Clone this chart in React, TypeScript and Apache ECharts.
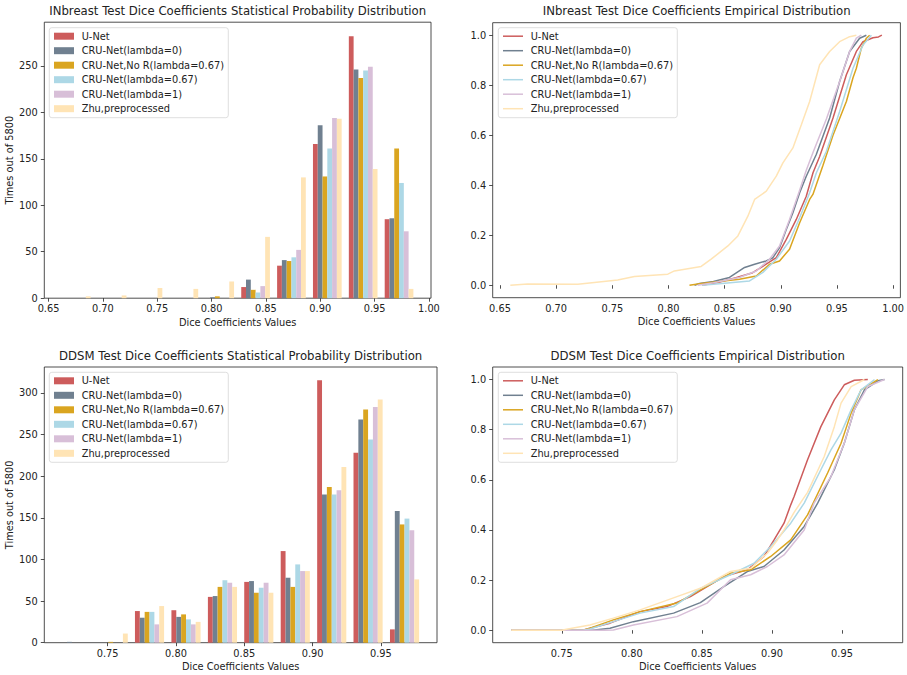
import React, { useEffect, useRef } from "react";
import * as echarts from "echarts";

// ---------- Data ----------
const seriesNames = [
  "U-Net",
  "CRU-Net(lambda=0)",
  "CRU-Net,No R(lambda=0.67)",
  "CRU-Net(lambda=0.67)",
  "CRU-Net(lambda=1)",
  "Zhu,preprocessed",
];
const seriesColors = ["#CD5C5C", "#708090", "#DAA520", "#ADD8E6", "#D8BFD8", "#FFE4B5"];

// INbreast histogram (10 bins)
const inbBinEdges = [0.659, 0.692, 0.725, 0.758, 0.791, 0.824, 0.857, 0.89, 0.923, 0.956];
const inbBinWidth = 0.033;
const inbUNet = [0, 0, 0, 0, 0, 12, 35, 166, 282, 85];
const inbCRU0 = [0, 0, 0, 0, 1, 20, 41, 186, 246, 86];
const inbNoR = [0, 0, 0, 0, 2, 9, 40, 131, 237, 161];
const inbL067 = [0, 0, 0, 0, 0, 6, 44, 161, 245, 124];
const inbL1 = [0, 0, 0, 0, 0, 13, 52, 194, 249, 72];
const inbZhu = [2, 3, 11, 10, 18, 66, 130, 193, 139, 10];

// DDSM histogram (10 bins)
const ddsmBinEdges = [0.714, 0.7407, 0.7673, 0.794, 0.8207, 0.8473, 0.874, 0.9007, 0.9273, 0.954];
const ddsmBinWidth = 0.02667;
const ddsmUNet = [0, 0, 38, 39, 55, 73, 110, 315, 228, 16];
const ddsmCRU0 = [1, 0, 30, 31, 56, 74, 78, 178, 268, 158];
const ddsmNoR = [0, 1, 37, 34, 67, 60, 67, 187, 280, 142];
const ddsmL067 = [0, 0, 37, 28, 75, 66, 94, 178, 244, 149];
const ddsmL1 = [0, 0, 22, 22, 72, 72, 86, 183, 283, 135];
const ddsmZhu = [0, 11, 44, 25, 67, 60, 86, 211, 292, 76];

// INbreast empirical distribution [dice, cumulative fraction]
const inbEcdfUNet = [[0.83, 0], [0.845, 0.012], [0.86, 0.03], [0.875, 0.05], [0.887, 0.084], [0.896, 0.11], [0.9049, 0.183], [0.9138, 0.263], [0.9227, 0.356], [0.9287, 0.45], [0.9346, 0.515], [0.9465, 0.669], [0.9584, 0.842], [0.9673, 0.935], [0.9732, 0.974], [0.9821, 0.99], [0.987, 0.993], [0.99, 1.0]];
const inbEcdfCRU0 = [[0.8232, 0], [0.8276, 0.007], [0.84, 0.015], [0.8543, 0.031], [0.8678, 0.071], [0.8767, 0.084], [0.887, 0.097], [0.893, 0.11], [0.8989, 0.15], [0.9049, 0.223], [0.9108, 0.29], [0.9168, 0.37], [0.9227, 0.436], [0.9316, 0.523], [0.9435, 0.669], [0.9524, 0.815], [0.9613, 0.935], [0.9702, 0.988], [0.9762, 1.0]];
const inbEcdfNoR = [[0.8187, 0], [0.8276, 0.006], [0.845, 0.015], [0.8632, 0.024], [0.8782, 0.037], [0.89, 0.084], [0.8989, 0.097], [0.9078, 0.144], [0.9168, 0.25], [0.9257, 0.343], [0.9286, 0.363], [0.9376, 0.48], [0.9465, 0.6], [0.9584, 0.735], [0.9643, 0.83], [0.9673, 0.868], [0.9717, 0.948], [0.9762, 0.988], [0.9791, 1.0]];
const inbEcdfL067 = [[0.83, 0], [0.85, 0.008], [0.8722, 0.017], [0.8841, 0.051], [0.896, 0.104], [0.9078, 0.177], [0.9168, 0.27], [0.9257, 0.37], [0.9317, 0.45], [0.9406, 0.536], [0.9524, 0.695], [0.9643, 0.868], [0.9732, 0.961], [0.9807, 1.0]];
const inbEcdfL1 = [[0.826, 0], [0.84, 0.01], [0.8632, 0.031], [0.8782, 0.057], [0.89, 0.104], [0.8989, 0.157], [0.9078, 0.263], [0.9168, 0.38], [0.9227, 0.46], [0.9286, 0.53], [0.9406, 0.665], [0.9524, 0.815], [0.9613, 0.935], [0.9673, 0.988], [0.9717, 1.0]];
const inbEcdfZhu = [[0.6592, 0], [0.6746, 0.005], [0.7192, 0.004], [0.734, 0.011], [0.7548, 0.021], [0.7697, 0.035], [0.7994, 0.044], [0.8053, 0.057], [0.8291, 0.075], [0.838, 0.104], [0.8529, 0.157], [0.8618, 0.197], [0.8707, 0.276], [0.8767, 0.343], [0.8871, 0.376], [0.896, 0.436], [0.9019, 0.489], [0.9108, 0.549], [0.9183, 0.642], [0.9257, 0.735], [0.9346, 0.882], [0.9435, 0.935], [0.9524, 0.974], [0.9613, 0.994], [0.9673, 1.0]];

// DDSM empirical distribution
const ddsmEcdfUNet = [[0.714, 0], [0.765, 0], [0.7701, 0.008], [0.7844, 0.028], [0.8059, 0.074], [0.825, 0.094], [0.8418, 0.134], [0.8656, 0.214], [0.8824, 0.241], [0.8943, 0.294], [0.9015, 0.36], [0.9086, 0.427], [0.9134, 0.5], [0.9158, 0.533], [0.9254, 0.68], [0.9349, 0.812], [0.9445, 0.919], [0.9516, 0.979], [0.9588, 0.997], [0.9684, 1.0]];
const ddsmEcdfCRU0 = [[0.714, 0], [0.772, 0], [0.7844, 0.008], [0.8011, 0.034], [0.8298, 0.068], [0.8489, 0.11], [0.8656, 0.174], [0.8824, 0.234], [0.8943, 0.254], [0.9086, 0.32], [0.923, 0.414], [0.9278, 0.46], [0.9326, 0.507], [0.9445, 0.64], [0.9516, 0.746], [0.9588, 0.879], [0.966, 0.959], [0.9756, 0.995], [0.9803, 1.0]];
const ddsmEcdfNoR = [[0.714, 0], [0.765, 0], [0.7701, 0.008], [0.7868, 0.041], [0.8059, 0.074], [0.8322, 0.108], [0.8489, 0.161], [0.8704, 0.227], [0.8848, 0.241], [0.8991, 0.294], [0.9134, 0.36], [0.9254, 0.46], [0.9397, 0.627], [0.9493, 0.746], [0.9565, 0.866], [0.9636, 0.959], [0.9756, 1.0]];
const ddsmEcdfL067 = [[0.714, 0], [0.765, 0], [0.7701, 0.005], [0.7868, 0.034], [0.8059, 0.068], [0.8298, 0.094], [0.8489, 0.167], [0.8704, 0.221], [0.8872, 0.267], [0.8991, 0.334], [0.9134, 0.427], [0.923, 0.507], [0.9349, 0.64], [0.9421, 0.719], [0.9493, 0.786], [0.9565, 0.879], [0.9636, 0.959], [0.9732, 1.0]];
const ddsmEcdfL1 = [[0.714, 0], [0.78, 0], [0.7868, 0.001], [0.8011, 0.021], [0.8322, 0.054], [0.8537, 0.108], [0.8704, 0.201], [0.8848, 0.221], [0.8967, 0.254], [0.9086, 0.3], [0.923, 0.4], [0.9301, 0.507], [0.9421, 0.613], [0.9516, 0.746], [0.9588, 0.879], [0.9684, 0.972], [0.9803, 1.0]];
const ddsmEcdfZhu = [[0.714, 0], [0.75, 0], [0.7533, 0.004], [0.7701, 0.021], [0.7868, 0.048], [0.8059, 0.081], [0.8322, 0.134], [0.8489, 0.167], [0.8704, 0.234], [0.8848, 0.247], [0.8967, 0.307], [0.9039, 0.36], [0.9086, 0.4], [0.9158, 0.47], [0.9254, 0.55], [0.9373, 0.693], [0.9445, 0.812], [0.9493, 0.906], [0.9565, 0.972], [0.966, 1.0]];

// Tick values
const inbXTicks = [0.65, 0.7, 0.75, 0.8, 0.85, 0.9, 0.95, 1.0];
const ddsmXTicks = [0.75, 0.8, 0.85, 0.9, 0.95];
const inbHistYTicks = [0, 50, 100, 150, 200, 250];
const ddsmHistYTicks = [0, 50, 100, 150, 200, 250, 300];
const ecdfYTicks = [0, 0.2, 0.4, 0.6, 0.8, 1.0];

const titles = [
  "INbreast Test Dice Coefficients Statistical Probability Distribution",
  "INbreast Test Dice Coefficients Empirical Distribution",
  "DDSM Test Dice Coefficients Statistical Probability Distribution",
  "DDSM Test Dice Coefficients Empirical Distribution",
];
const xAxisName = "Dice Coefficients Values";
const yAxisName = "Times out of 5800";

// ---------- Layout ----------
const FONT = "DejaVu Sans";
const TXT = "#222";
const FS = 9.8;
const grids = [
  { left: 44.3, top: 22.2, width: 386.7, height: 276 },
  { left: 492.7, top: 22.7, width: 408, height: 275 },
  { left: 44.3, top: 367, width: 392.7, height: 275.7 },
  { left: 492.7, top: 367, width: 410, height: 275.7 },
];

function histRenderer(binWidth: number, k: number, color: string) {
  const barW = (0.8 * binWidth) / 6;
  return (params: any, api: any) => {
    const left = api.value(0) + 0.1 * binWidth + k * barW;
    const c = api.value(1);
    const p0 = api.coord([left, c]);
    const p1 = api.coord([left + barW, 0]);
    return {
      type: "rect",
      shape: { x: p0[0], y: p0[1], width: p1[0] - p0[0], height: p1[1] - p0[1] },
      style: { fill: color },
    };
  };
}

const fmt = (digits: number) => (v: number) => (Math.round(v * 1000) / 1000).toFixed(digits);

function xAxisCfg(gridIndex: number, min: number, max: number, ticks: number[]) {
  return {
    type: "value",
    gridIndex,
    min,
    max,
    name: xAxisName,
    nameLocation: "middle",
    nameGap: 19,
    nameTextStyle: { fontFamily: FONT, fontSize: FS, color: TXT },
    splitLine: { show: false },
    axisLine: { show: false },
    axisTick: { show: true, customValues: ticks, length: 3.5, lineStyle: { color: "#222", width: 0.8 } },
    axisLabel: {
      customValues: ticks,
      formatter: fmt(2),
      fontFamily: FONT,
      fontSize: FS,
      color: TXT,
      margin: 5.5,
    },
  };
}

function yAxisCfg(gridIndex: number, min: number, max: number, ticks: number[], digits: number, withName: boolean) {
  return {
    type: "value",
    gridIndex,
    min,
    max,
    name: withName ? yAxisName : "",
    nameLocation: "middle",
    nameGap: 30,
    nameRotate: 90,
    nameTextStyle: { fontFamily: FONT, fontSize: FS, color: TXT },
    splitLine: { show: false },
    axisLine: { show: false },
    axisTick: { show: true, customValues: ticks, length: 3.5, lineStyle: { color: "#222", width: 0.8 } },
    axisLabel: {
      customValues: ticks,
      formatter: fmt(digits),
      fontFamily: FONT,
      fontSize: FS,
      color: TXT,
      margin: 6.5,
    },
  };
}

function legendCfg(left: number, top: number, isLine: boolean) {
  return {
    left,
    top,
    orient: "vertical",
    selectedMode: false,
    icon: "rect",
    itemWidth: 20,
    itemHeight: isLine ? 1.5 : 7,
    itemGap: 2.5,
    padding: [2.5, 4.3, 3, 4.7],
    backgroundColor: "rgba(255,255,255,0.8)",
    borderColor: "#d6d6d6",
    borderWidth: 0.8,
    borderRadius: 2.5,
    data: seriesNames.map((n) => ({ name: n, icon: "rect" })),
    formatter: "{a|{name}}",
    textStyle: {
      fontFamily: FONT,
      fontSize: FS,
      color: TXT,
      lineHeight: 12,
      rich: { a: { fontFamily: FONT, fontSize: FS, color: TXT, lineHeight: 12, padding: [0, 0, 0, 2.7] } },
    },
  };
}

export default function App() {
  const ref = useRef<HTMLDivElement>(null);
  useEffect(() => {
    if (!ref.current) return;
    const chart = echarts.init(ref.current, undefined, { renderer: "svg" });

    const inbHist = [inbUNet, inbCRU0, inbNoR, inbL067, inbL1, inbZhu];
    const ddsmHist = [ddsmUNet, ddsmCRU0, ddsmNoR, ddsmL067, ddsmL1, ddsmZhu];
    const inbEcdf = [inbEcdfUNet, inbEcdfCRU0, inbEcdfNoR, inbEcdfL067, inbEcdfL1, inbEcdfZhu];
    const ddsmEcdf = [ddsmEcdfUNet, ddsmEcdfCRU0, ddsmEcdfNoR, ddsmEcdfL067, ddsmEcdfL1, ddsmEcdfZhu];

    const series: any[] = [];
    seriesNames.forEach((name, k) => {
      series.push({
        type: "custom",
        name,
        xAxisIndex: 0,
        yAxisIndex: 0,
        itemStyle: { color: seriesColors[k] },
        renderItem: histRenderer(inbBinWidth, k, seriesColors[k]),
        data: inbHist[k].map((c, i) => [inbBinEdges[i], c]),
      });
    });
    seriesNames.forEach((name, k) => {
      series.push({
        type: "custom",
        name,
        xAxisIndex: 2,
        yAxisIndex: 2,
        itemStyle: { color: seriesColors[k] },
        renderItem: histRenderer(ddsmBinWidth, k, seriesColors[k]),
        data: ddsmHist[k].map((c, i) => [ddsmBinEdges[i], c]),
      });
    });
    seriesNames.forEach((name, k) => {
      series.push({
        type: "line",
        name,
        xAxisIndex: 1,
        yAxisIndex: 1,
        showSymbol: false,
        symbol: "none",
        color: seriesColors[k],
        lineStyle: { color: seriesColors[k], width: 1.5 },
        data: inbEcdf[k],
      });
    });
    seriesNames.forEach((name, k) => {
      series.push({
        type: "line",
        name,
        xAxisIndex: 3,
        yAxisIndex: 3,
        showSymbol: false,
        symbol: "none",
        color: seriesColors[k],
        lineStyle: { color: seriesColors[k], width: 1.5 },
        data: ddsmEcdf[k],
      });
    });

    const option: any = {
      animation: false,
      textStyle: { fontFamily: FONT },
      title: grids.map((g, i) => ({
        text: titles[i],
        left: g.left + g.width / 2,
        top: i < 2 ? 5.2 : 349.6,
        textAlign: "center",
        padding: 0,
        textStyle: { fontFamily: FONT, fontSize: 11.7, fontWeight: "normal", color: TXT },
      })),
      legend: [
        legendCfg(49.3, 27.7, false),
        legendCfg(498.3, 27.7, true),
        legendCfg(49.3, 372.3, false),
        legendCfg(498.3, 372.3, true),
      ],
      grid: grids.map((g) => ({
        ...g,
        show: true,
        borderColor: "#222",
        borderWidth: 0.8,
        containLabel: false,
      })),
      xAxis: [
        xAxisCfg(0, 0.6461, 1.0019, inbXTicks),
        xAxisCfg(1, 0.6435, 1.0065, inbXTicks),
        xAxisCfg(2, 0.7036, 0.9911, ddsmXTicks),
        xAxisCfg(3, 0.7007, 0.9933, ddsmXTicks),
      ],
      yAxis: [
        yAxisCfg(0, 0, 297, inbHistYTicks, 0, true),
        yAxisCfg(1, -0.05, 1.05, ecdfYTicks, 1, false),
        yAxisCfg(2, 0, 331, ddsmHistYTicks, 0, true),
        yAxisCfg(3, -0.05, 1.05, ecdfYTicks, 1, false),
      ],
      series,
    };
    chart.setOption(option);
    return () => chart.dispose();
  }, []);
  return (
    <div
      ref={ref}
      style={{ position: "absolute", left: 0, top: 0, width: 907, height: 675, background: "#fff" }}
    />
  );
}
